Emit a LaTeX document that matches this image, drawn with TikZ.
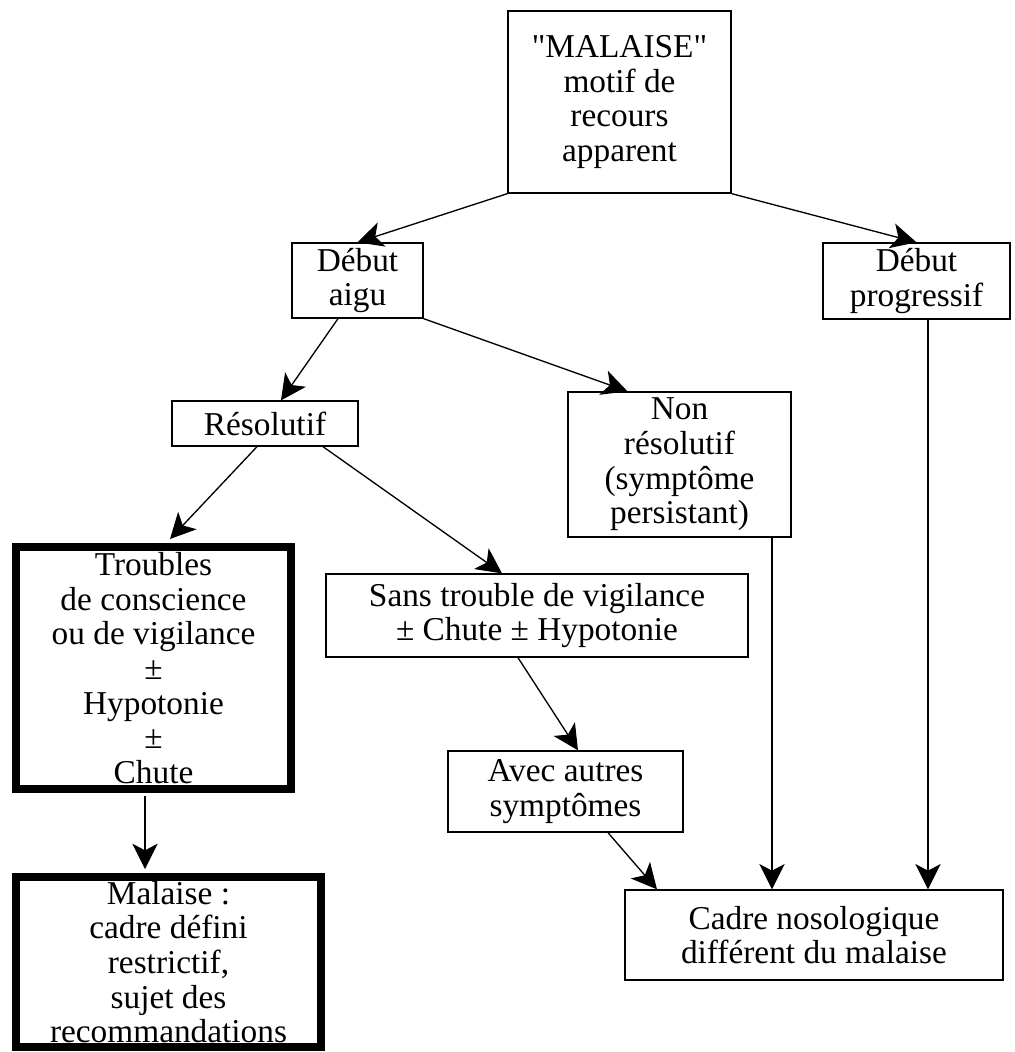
\documentclass[tikz,border=0pt]{standalone}
\usepackage{fontspec}
\setmainfont{Liberation Serif}[Ligatures=TeXOff]
\usepackage{tikz}
\usetikzlibrary{arrows.meta,calc}

\begin{document}
\begin{tikzpicture}[x=0.75pt,y=-0.75pt,>={Stealth[length=19pt,width=19pt,inset=5pt]},
box/.style={draw,line width=1pt,align=center,inner sep=0pt,font=\fontsize{25}{26}\selectfont},
thickbox/.style={box,line width=6pt}]
\useasboundingbox(0,0)rectangle(1014,1052);
\node[box,minimum width=167.25pt,minimum height=136.5pt](malaise)at(619.5,102){"MALAISE"\\motif de\\recours\\apparent};
\node[box,minimum width=98.25pt,minimum height=56.25pt](aigu)at(357.5,280.5){Début\\aigu};
\node[box,minimum width=140.25pt,minimum height=57pt](progressif)at(916.5,281){Début\\progressif};
\node[box,minimum width=139.5pt,minimum height=33.75pt](resolutif)at(265,423.5){Résolutif};
\node[box,minimum width=167.25pt,minimum height=108.75pt](nonresolutif)at(679.5,464.5){Non\\résolutif\\(symptôme\\persistant)};
\node[thickbox,minimum width=206.25pt,minimum height=181.5pt](troubles)at(153.5,668){Troubles\\de conscience\\ou de vigilance\\±\\Hypotonie\\±\\Chute};
\node[box,minimum width=316.5pt,minimum height=62.25pt](sans)at(537,615.5){Sans trouble de vigilance\\± Chute ± Hypotonie};
\node[box,minimum width=176.25pt,minimum height=60.75pt](autres)at(565.5,791.5){Avec autres\\symptômes};
\node[thickbox,minimum width=228.75pt,minimum height=127.5pt](cadredefini)at(168.5,962){Malaise :\\cadre défini\\restrictif,\\sujet des\\recommandations};
\node[box,minimum width=283.5pt,minimum height=67.5pt](nosologique)at(814,935){Cadre nosologique\\différent du malaise};
\draw[->,line width=1pt](malaise.south west)--(aigu.north);
\draw[->,line width=1pt](malaise.south east)--(progressif.north);
\draw[->,line width=1pt]($(aigu.south)+(-19.5,0)$)--($(resolutif.north)+(16,0)$);
\draw[->,line width=1pt](aigu.south east)--($(nonresolutif.north)+(-52,0)$);
\draw[->,line width=1pt]($(resolutif.south)+(-8,0)$)--($(troubles.north)+(16.5,-4)$);
\draw[->,line width=1pt]($(resolutif.south)+(58,0)$)--($(sans.north)+(-35,0)$);
\draw[->,line width=1pt]($(sans.south)+(-19,0)$)--($(autres.north)+(12.5,0)$);
\draw[->,line width=1pt]($(autres.south)+(42.5,0)$)--($(nosologique.north)+(-157,0)$);
\coordinate(nrfoot)at($(nonresolutif.south)+(92.5,0)$);
\coordinate(dpfoot)at($(progressif.south)+(11.5,0)$);
\coordinate(tfoot)at($(troubles.south)+(-8.5,3)$);
\draw[->,line width=1pt](nrfoot)--(nrfoot|-nosologique.north);
\draw[->,line width=1pt](dpfoot)--(dpfoot|-nosologique.north);
\draw[->,line width=1pt](tfoot)--($(tfoot|-cadredefini.north)+(0,-4)$);
\end{tikzpicture}
\end{document}
